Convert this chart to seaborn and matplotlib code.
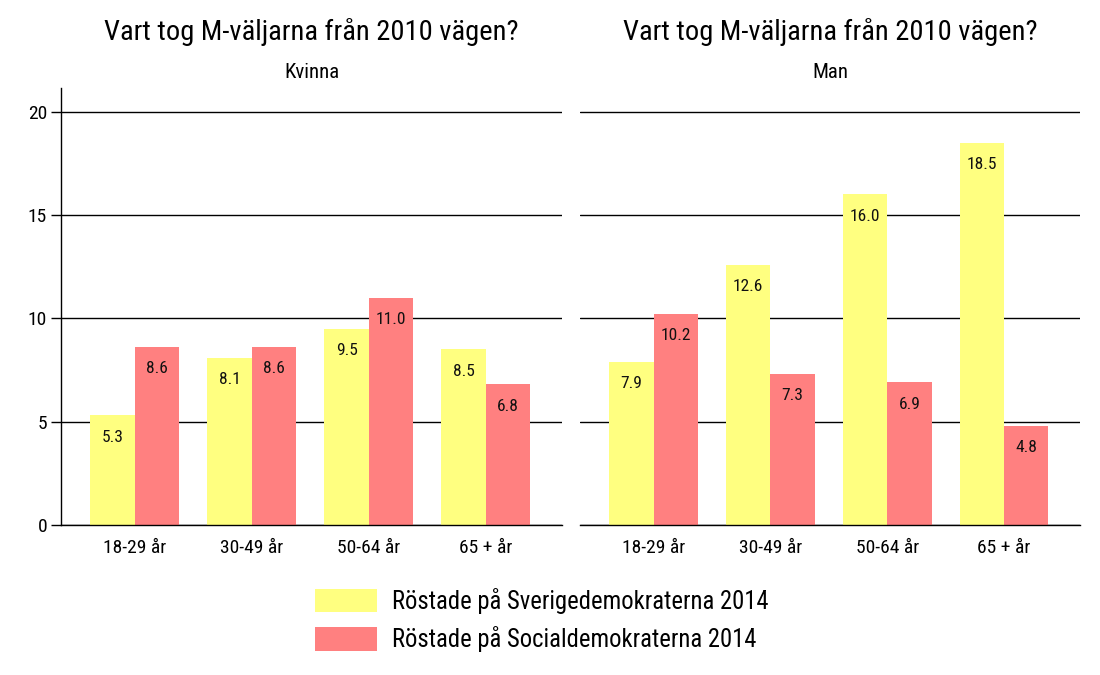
import matplotlib
matplotlib.use("Agg")
import matplotlib.pyplot as plt
from matplotlib.patches import Patch
import seaborn as sns
import pandas as pd

age_groups = ["18-29 år", "30-49 år", "50-64 år", "65 + år"]
panels = ["Kvinna", "Man"]
series = ["Röstade på Sverigedemokraterna 2014", "Röstade på Socialdemokraterna 2014"]
kvinna_sd = [5.3, 8.1, 9.5, 8.5]
kvinna_s = [8.6, 8.6, 11.0, 6.8]
man_sd = [7.9, 12.6, 16.0, 18.5]
man_s = [10.2, 7.3, 6.9, 4.8]
title_text = "Vart tog M-väljarna från 2010 vägen?"
yticks = [0, 5, 10, 15, 20]
colors = ["#FFFF80", "#FF8080"]

values = {"Kvinna": (kvinna_sd, kvinna_s), "Man": (man_sd, man_s)}
rows = []
for p in panels:
    for s_name, vals in zip(series, values[p]):
        for a, v in zip(age_groups, vals):
            rows.append({"panel": p, "serie": s_name, "age": a, "value": v})
df = pd.DataFrame(rows)

sns.set_theme(style="white")
FONT = ["Roboto Condensed", "Archivo Narrow", "Liberation Sans", "DejaVu Sans"]
plt.rcParams["font.family"] = FONT
plt.rcParams["text.color"] = "black"

fig = plt.figure(figsize=(11, 6.75), dpi=100)
W, H = 1100, 675
bottom = (H - 525) / H
height = 437 / H
ax_pos = [[61 / W, bottom, 501 / W, height], [580 / W, bottom, 500 / W, height]]

for i, p in enumerate(panels):
    ax = fig.add_axes(ax_pos[i])
    sub = df[df.panel == p]
    sns.barplot(data=sub, x="age", y="value", hue="serie", hue_order=series,
                order=age_groups, palette=colors, width=0.76, saturation=1,
                linewidth=0, ax=ax, legend=False, errorbar=None)
    for cont in ax.containers:
        ax.bar_label(cont, fmt="%.1f", padding=-21, fontsize=12.5, color="#111111")
    ax.set_xlim(-0.63, 3.65)
    ax.set_ylim(0, 21.15)
    ax.set_yticks(yticks)
    ax.set_xlabel("")
    ax.set_ylabel("")
    ax.set_axisbelow(True)
    ax.yaxis.grid(True, color="black", linewidth=1.0)
    ax.xaxis.grid(False)
    for s in ["top", "right"]:
        ax.spines[s].set_visible(False)
    ax.spines["bottom"].set_color("black")
    ax.spines["bottom"].set_linewidth(1.0)
    ax.tick_params(axis="x", length=0, labelsize=14, pad=10, colors="black")
    if i == 0:
        ax.spines["left"].set_color("black")
        ax.spines["left"].set_linewidth(1.0)
        ax.tick_params(axis="y", left=True, length=7, width=1.0, labelsize=14, pad=3,
                       colors="black")
    else:
        ax.spines["left"].set_visible(False)
        ax.tick_params(axis="y", left=False, labelleft=False)
    cx = ax_pos[i][0] + ax_pos[i][2] / 2
    fig.text(cx, 1 - 40 / H, title_text, ha="center", va="baseline", fontsize=20.5,
             color="black")
    fig.text(cx, 1 - 78 / H, p, ha="center", va="baseline", fontsize=15, color="black")

handles = [Patch(facecolor=c, edgecolor="none") for c in colors]
fig.legend(handles, series, loc="upper left", bbox_to_anchor=(315 / W, 1 - 588 / H),
           frameon=False, fontsize=17.7, handlelength=2.52, handleheight=1.08,
           handletextpad=0.62, labelspacing=0.5, borderpad=0, borderaxespad=0,
           labelcolor="black")

fig.savefig("out.png", dpi=100)
